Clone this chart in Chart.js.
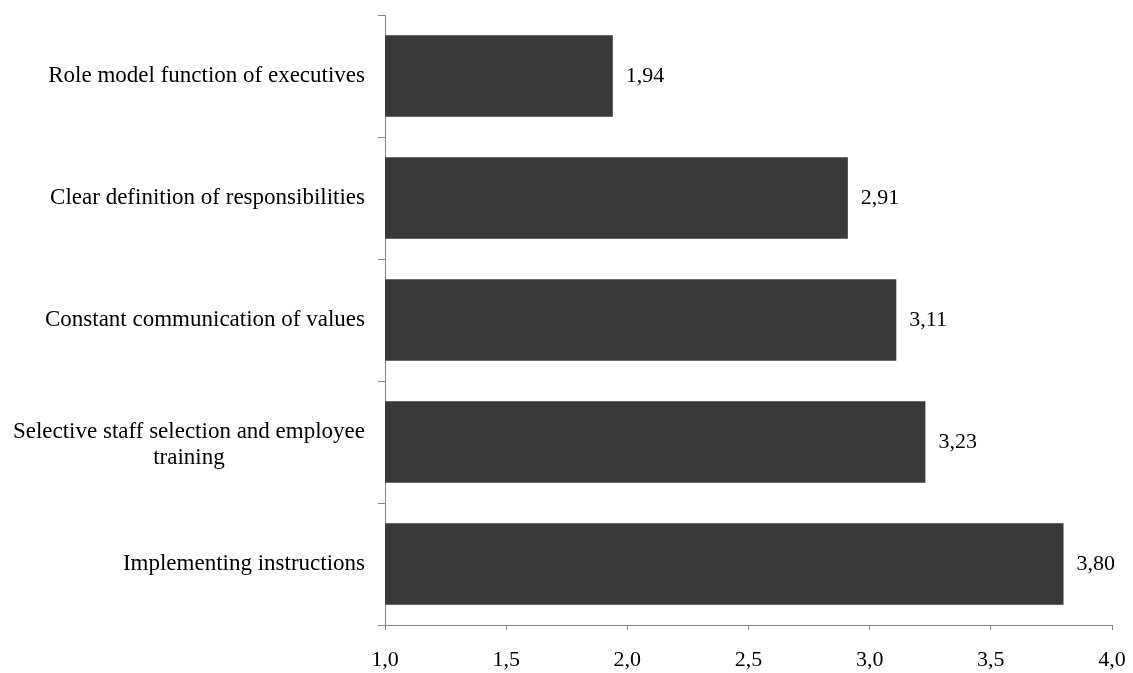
<!DOCTYPE html>
<html>
<head>
<meta charset="utf-8">
<script src="https://cdn.jsdelivr.net/npm/chart.js@4/dist/chart.umd.min.js"></script>
<style>
html,body{margin:0;padding:0;background:#fff;}
#wrap{width:1133px;height:673px;position:relative;}
</style>
</head>
<body>
<div id="wrap"><canvas id="c" width="1133" height="673"></canvas></div>
<script>
const categories = [
  ["Role model function of executives"],
  ["Clear definition of responsibilities"],
  ["Constant communication of values"],
  ["Selective staff selection and employee", "training"],
  ["Implementing instructions"]
];
const values = [1.94, 2.91, 3.11, 3.23, 3.80];
const xTicks = [1.0, 1.5, 2.0, 2.5, 3.0, 3.5, 4.0];

const FONT = "'Liberation Serif', 'Times New Roman', serif";
const FS = 22;
const CFS = 23;
const AXIS = '#868686';
const fmt = v => v.toFixed(2).replace('.', ',');

const labelPlugin = {
  id: 'labels',
  afterDatasetsDraw(chart) {
    const ctx = chart.ctx;
    const meta = chart.getDatasetMeta(0);
    ctx.save();
    ctx.font = FS + 'px ' + FONT;
    ctx.fillStyle = '#000';
    ctx.textBaseline = 'middle';
    ctx.textAlign = 'left';
    meta.data.forEach((bar, i) => {
      ctx.fillText(fmt(values[i]), bar.x + 13, bar.y);
    });
    // category labels
    ctx.font = CFS + 'px ' + FONT;
    const ys = chart.scales.y;
    const right = ys.right - 20;
    const lh = 26;
    categories.forEach((lines, i) => {
      const cy = ys.getPixelForValue(i) + (lines.length > 1 ? 3 : 0);
      const maxW = Math.max(...lines.map(l => ctx.measureText(l).width));
      const cx = right - maxW / 2;
      ctx.textAlign = 'center';
      const y0 = cy - (lines.length - 1) * lh / 2;
      lines.forEach((l, j) => ctx.fillText(l, cx, y0 + j * lh));
    });
    ctx.restore();
  }
};

new Chart(document.getElementById('c'), {
  type: 'bar',
  data: {
    labels: categories.map(c => c.join(' ')),
    datasets: [{
      data: values,
      backgroundColor: '#3a3a3a',
      borderWidth: 0,
      categoryPercentage: 1.0,
      barPercentage: 0.67
    }]
  },
  options: {
    indexAxis: 'y',
    responsive: false,
    animation: false,
    devicePixelRatio: 1,
    layout: { padding: { top: 15, right: 21, bottom: 0, left: 0 } },
    plugins: { legend: { display: false }, tooltip: { enabled: false } },
    scales: {
      x: {
        type: 'linear',
        min: 1.0,
        max: 4.0,
        afterBuildTicks: s => { s.ticks = xTicks.map(v => ({ value: v })); },
        afterFit: s => { s.height = 48; s.paddingLeft = 0; s.paddingRight = 0; },
        border: { color: AXIS, width: 1 },
        grid: { drawOnChartArea: false, color: AXIS, tickLength: 5 },
        ticks: {
          font: { family: FONT, size: FS },
          color: '#000',
          padding: 17,
          maxRotation: 0,
          callback: v => Number(v).toFixed(1).replace('.', ',')
        }
      },
      y: {
        type: 'category',
        offset: true,
        afterFit: s => { s.width = 385; },
        border: { color: AXIS, width: 1 },
        grid: { drawOnChartArea: false, color: AXIS, tickLength: 7, offset: true },
        ticks: { display: false }
      }
    }
  },
  plugins: [labelPlugin]
});
</script>
</body>
</html>
